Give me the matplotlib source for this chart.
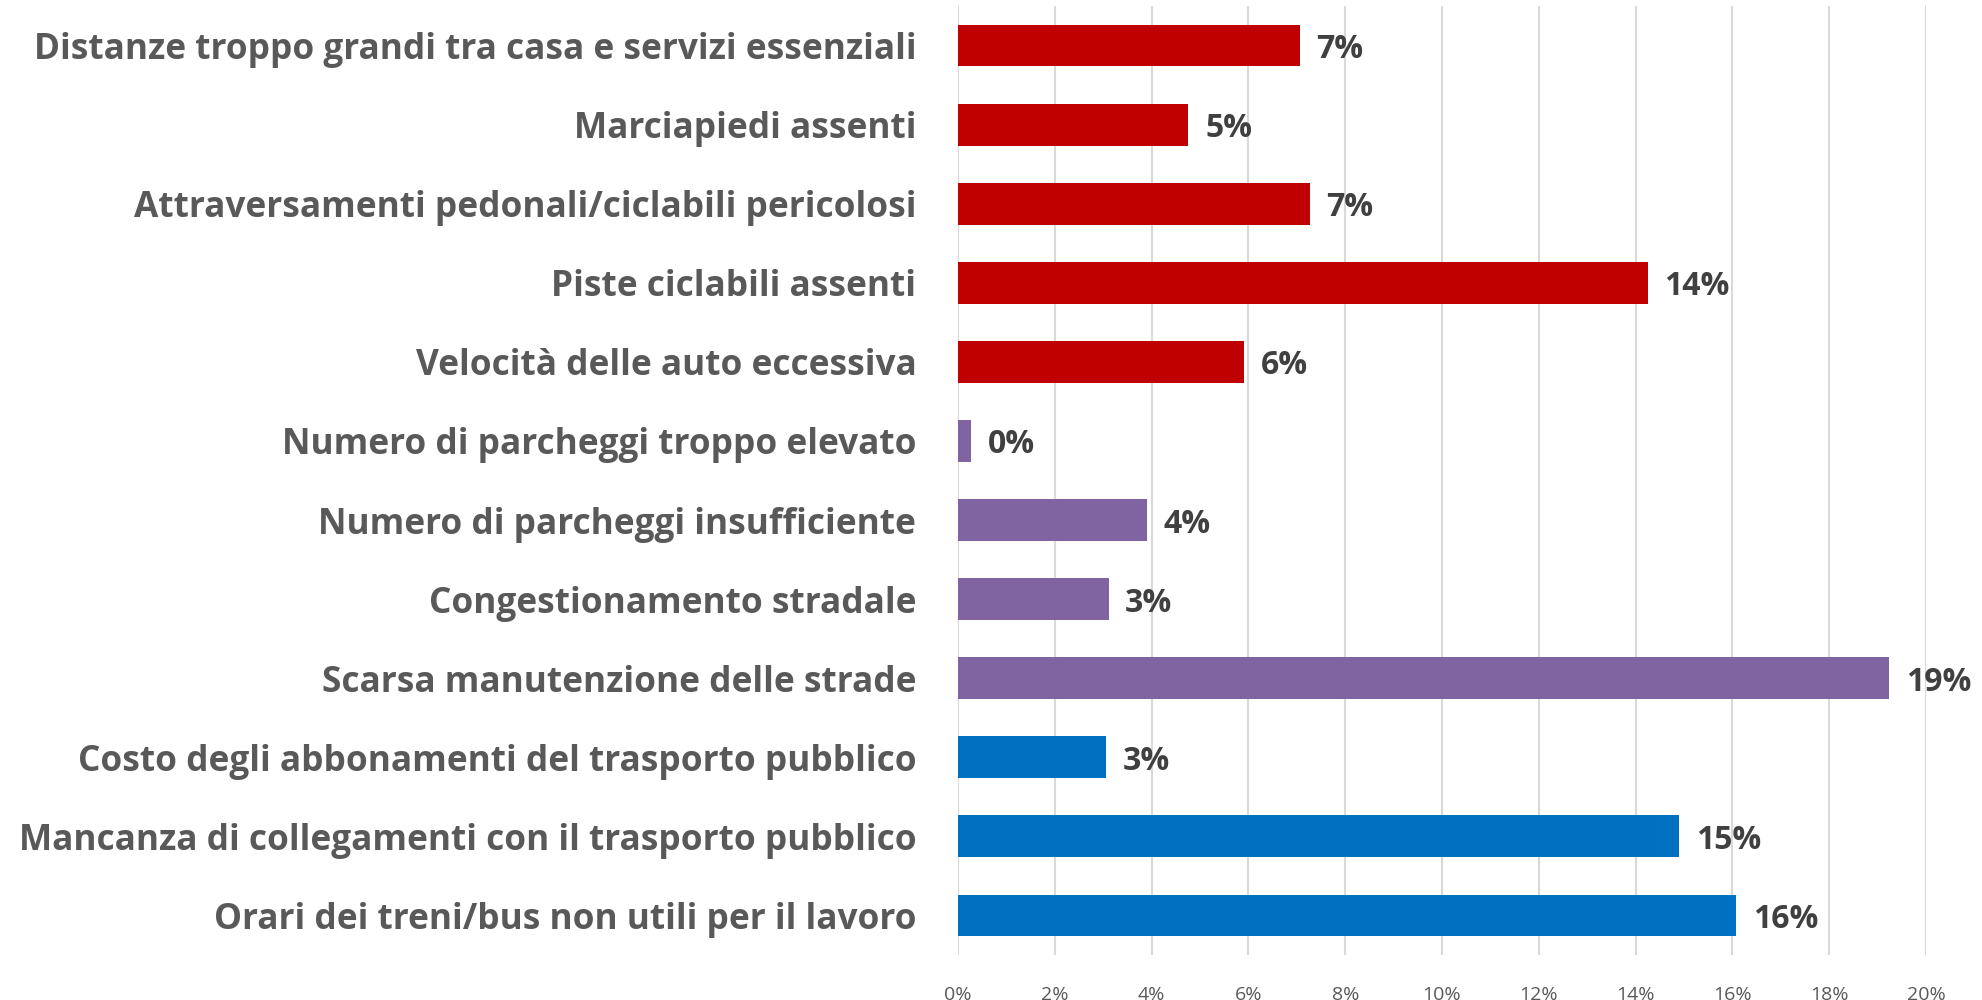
import matplotlib
matplotlib.use("Agg")
import matplotlib.pyplot as plt
from matplotlib import font_manager as fm

categories = [
    "Distanze troppo grandi tra casa e servizi essenziali",
    "Marciapiedi assenti",
    "Attraversamenti pedonali/ciclabili pericolosi",
    "Piste ciclabili assenti",
    "Velocità delle auto eccessiva",
    "Numero di parcheggi troppo elevato",
    "Numero di parcheggi insufficiente",
    "Congestionamento stradale",
    "Scarsa manutenzione delle strade",
    "Costo degli abbonamenti del trasporto pubblico",
    "Mancanza di collegamenti con il trasporto pubblico",
    "Orari dei treni/bus non utili per il lavoro",
]
values = [7.06, 4.76, 7.27, 14.25, 5.91, 0.27, 3.90, 3.11, 19.24, 3.06, 14.9, 16.08]
groups = ["red"] * 5 + ["purple"] * 4 + ["blue"] * 3
group_colors = {"red": "#C00000", "purple": "#8064A2", "blue": "#0070C0"}
xticks = [0, 2, 4, 6, 8, 10, 12, 14, 16, 18, 20]

names = {f.name for f in fm.fontManager.ttflist}
fam = "Liberation Sans Narrow" if "Liberation Sans Narrow" in names else "Open Sans"
plt.rcParams["font.family"] = [fam, "DejaVu Sans"]

fig = plt.figure(figsize=(19.82, 10), dpi=100)
ax = fig.add_axes([958 / 1982, 0.045, (1926 - 958) / 1982, 0.949])

y = list(range(len(categories)))
ax.barh(y, values, height=0.53, color=[group_colors[g] for g in groups], zorder=3)
ax.set_ylim(len(categories) - 0.5, -0.5)
ax.set_xlim(0, 20)
ax.set_xticks(xticks)
ax.set_xticklabels([f"{t}%" for t in xticks], color="#595959", fontsize=14)
ax.set_yticks(y)
ax.set_yticklabels(categories, fontsize=25.4, fontweight="bold", color="#595959")
ax.tick_params(axis="y", length=0, pad=30)
ax.tick_params(axis="x", length=0, pad=22)
ax.grid(axis="x", color="#D9D9D9", linewidth=1.5, zorder=0)
for s in ax.spines.values():
    s.set_visible(False)

for yi, v in zip(y, values):
    ax.annotate(f"{round(v):.0f}%", (v, yi), xytext=(12, 0), textcoords="offset points",
                va="center_baseline", ha="left", fontsize=23, fontweight="bold", color="#404040")

fig.savefig("out.png", dpi=100, facecolor="white")
